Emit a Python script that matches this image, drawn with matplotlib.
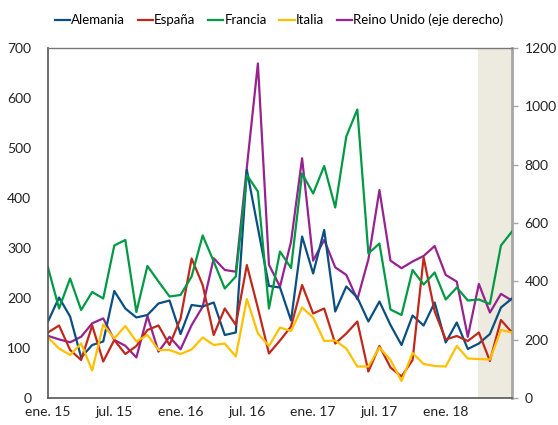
import matplotlib
matplotlib.use("Agg")
import matplotlib.pyplot as plt
import numpy as np

plt.rcParams['font.family'] = ['Lato', 'DejaVu Sans']

months = list(range(43))  # ene. 15 ... jul. 18
tick_pos = [0, 6, 12, 18, 24, 30, 36]
tick_labels = ["ene. 15", "jul. 15", "ene. 16", "jul. 16", "ene. 17", "jul. 17", "ene. 18"]

alemania = [153, 201, 163, 81, 106, 113, 214, 179, 161, 166, 189, 195, 128, 186, 183, 191,
            126, 131, 456, 340, 224, 221, 155, 323, 249, 336, 173, 223, 201, 153, 193, 146,
            106, 165, 145, 191, 111, 151, 98, 109, 128, 181, 199]
espana = [131, 145, 96, 76, 145, 73, 116, 88, 104, 136, 145, 106, 159, 279, 226, 126,
          179, 146, 266, 180, 89, 115, 143, 226, 169, 179, 109, 129, 153, 53, 104, 61,
          43, 76, 281, 173, 117, 124, 114, 131, 74, 156, 131]
francia = [261, 179, 239, 176, 212, 199, 305, 316, 172, 264, 233, 203, 206, 243, 325, 273,
           219, 243, 446, 413, 179, 293, 260, 449, 409, 464, 381, 523, 577, 289, 309, 177,
           166, 256, 227, 251, 197, 221, 195, 197, 188, 305, 333]
italia = [121, 99, 86, 109, 55, 147, 119, 144, 113, 126, 96, 96, 88, 97, 121, 106,
          109, 83, 198, 129, 104, 141, 134, 181, 161, 114, 115, 99, 63, 63, 101, 76,
          34, 90, 68, 64, 63, 104, 79, 78, 77, 136, 131]
reino_unido = [213, 201, 191, 210, 256, 273, 199, 179, 139, 281, 159, 210, 167, 250, 313, 479,
               439, 433, 791, 1147, 457, 382, 536, 822, 471, 542, 448, 422, 338, 475, 713, 471,
               445, 468, 487, 521, 422, 399, 210, 391, 293, 357, 334]
shade_start, shade_end = 39, 42

c_de, c_es, c_fr, c_it, c_uk = "#0B4F82", "#C0281C", "#009A44", "#FFC000", "#96238F"

fig = plt.figure(figsize=(5.58, 4.25), dpi=100)
ax = fig.add_axes([48/558, 1-398/425, (512-48)/558, (398-48)/425])
ax2 = ax.twinx()

# ax2 (right axis) sits underneath, carries background + shading
ax.set_zorder(ax2.get_zorder() + 1)
ax.patch.set_visible(False)
ax2.patch.set_visible(True)
ax2.patch.set_facecolor("white")
ax2.axvspan(shade_start - 0.1, shade_end, color="#EDEAE0", zorder=0, lw=0)

lw = 1.6
l5, = ax2.plot(months, reino_unido, color=c_uk, lw=lw, label="Reino Unido (eje derecho)", zorder=2)
l1, = ax.plot(months, alemania, color=c_de, lw=lw, label="Alemania")
l2, = ax.plot(months, espana, color=c_es, lw=lw, label="España")
l3, = ax.plot(months, francia, color=c_fr, lw=lw, label="Francia")
l4, = ax.plot(months, italia, color=c_it, lw=lw, label="Italia")

ax.set_xlim(0, 42)
ax.set_ylim(0, 700)
ax2.set_ylim(0, 1200)
ax.set_yticks(range(0, 701, 100))
ax2.set_yticks(range(0, 1201, 200))
ax.set_xticks(tick_pos)
ax.set_xticklabels(tick_labels)

for a in (ax, ax2):
    a.tick_params(labelsize=10, colors="#222222")
ax.tick_params(axis="y", length=0, pad=12)
ax.tick_params(axis="x", length=0, pad=6)
ax2.tick_params(axis="y", length=4, width=1, color="#A6A6A6", pad=5, direction="out")

for s in ("left", "bottom"):
    ax.spines[s].set_color("#555555")
    ax.spines[s].set_linewidth(1.2)
ax.spines["top"].set_color("#777777")
ax.spines["top"].set_linewidth(1.0)
ax.spines["right"].set_visible(False)
for s in ("left", "bottom", "top"):
    ax2.spines[s].set_visible(False)
ax2.spines["right"].set_color("#A6A6A6")
ax2.spines["right"].set_linewidth(2.0)

fig.legend(handles=[l1, l2, l3, l4, l5], loc="center", bbox_to_anchor=(0.5, 1-20/425),
           ncol=5, frameon=False, fontsize=9.5, handlelength=1.15, handletextpad=0.1,
           columnspacing=0.95, borderaxespad=0)

fig.savefig("out.png", dpi=100)
